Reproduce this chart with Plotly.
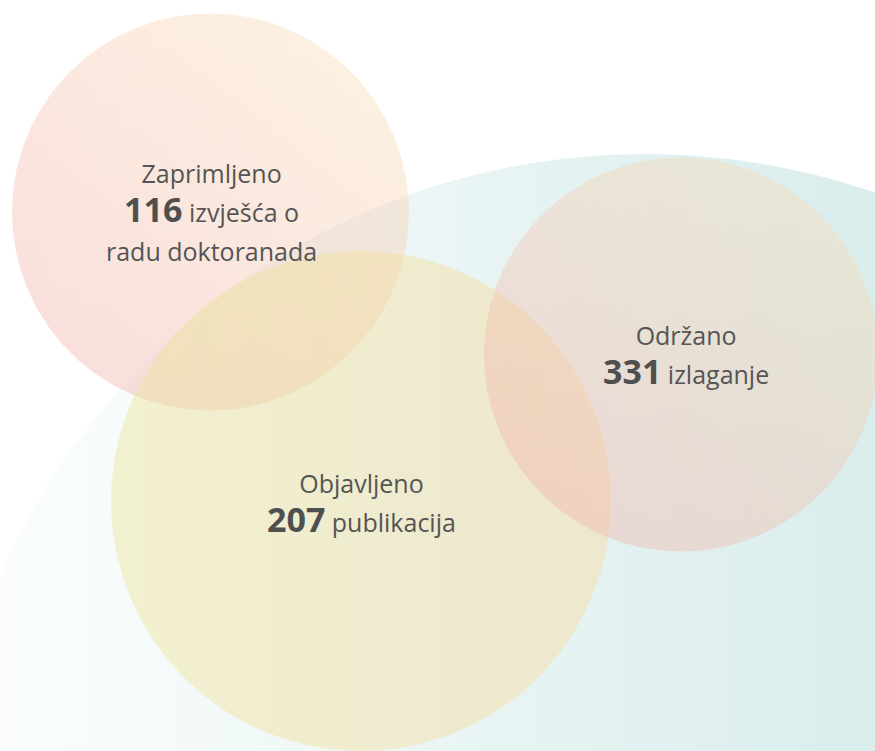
import numpy as np
import plotly.graph_objects as go

# ---- data ----
headings = ["Zaprimljeno", "Objavljeno", "Održano"]
values = [116, 207, 331]
units = ["izvješća o", "publikacija", "izlaganje"]
extra_lines = ["radu doktoranada", "", ""]

# ---- decorative geometry (pixel space, y downward) ----
W, H = 875, 751
circles = {
    "teal":   dict(cx=645, cy=858, r=704),
    "pink":   dict(cx=210.5, cy=212, r=198.5),
    "yellow": dict(cx=361, cy=501, r=250),
    "right":  dict(cx=681, cy=354.5, r=197),
}
# text block centre per bubble, same order as data
text_pos = [(211, 211.5), (361.5, 503.5), (686, 355.5)]

PINK = "rgb(238,168,166)"
CREAM = "rgb(250,226,182)"


def circle_xy(c, n=400):
    t = np.linspace(0, 2 * np.pi, n)
    return c["cx"] + c["r"] * np.cos(t), c["cy"] + c["r"] * np.sin(t)


fig = go.Figure()


def add_fill(c, gtype, c0, c1, start, stop, opacity):
    x, y = circle_xy(c)
    fig.add_trace(go.Scatter(
        x=x, y=y, mode="lines", line=dict(width=0, color="rgba(0,0,0,0)"),
        fill="toself", fillcolor=c1,
        fillgradient=dict(type=gtype, colorscale=[[0, c0], [1, c1]],
                          start=start, stop=stop),
        opacity=opacity, hoverinfo="skip", showlegend=False))


# big teal background circle
add_fill(circles["teal"], "horizontal", "rgb(251,253,253)", "rgb(217,237,236)", 0, W, 1.0)


def diag_bubble(c, opacity_each):
    # horizontal (left pink -> right cream) + vertical (top cream -> bottom pink)
    add_fill(c, "horizontal", PINK, CREAM, c["cx"] - c["r"], c["cx"] + c["r"], opacity_each)
    add_fill(c, "vertical", CREAM, PINK, c["cy"] - c["r"], c["cy"] + c["r"], opacity_each)


diag_bubble(circles["pink"], 0.225)
yc = circles["yellow"]
add_fill(yc, "horizontal", "rgb(236,228,154)", "rgb(250,218,162)",
         yc["cx"] - yc["r"], yc["cx"] + yc["r"], 0.45)
diag_bubble(circles["right"], 0.225)

REG = 25
BIG = 34
BASE = 30  # line pitch = 1.3 * BASE = 39px
COL = "#555555"


def reg(t):
    return f"<span style='font-size:{REG}px'>{t}</span>"


annos = []
for i, (hd, v, u, ex) in enumerate(zip(headings, values, units, extra_lines)):
    x0, yc0 = text_pos[i]
    lines = [reg(hd),
             f"<span style='font-size:{BIG}px;color:#4f4f4f'><b>{v}</b></span>" + reg(" " + u)]
    if ex:
        lines.append(reg(ex))
    annos.append(dict(x=x0, y=yc0, xref="x", yref="y", text="<br>".join(lines),
                      showarrow=False, xanchor="center", yanchor="middle", align="center",
                      font=dict(family="Open Sans", size=BASE, color=COL)))

fig.update_layout(
    width=W, height=H, margin=dict(l=0, r=0, t=0, b=0),
    paper_bgcolor="white", plot_bgcolor="white",
    xaxis=dict(range=[0, W], visible=False, fixedrange=True),
    yaxis=dict(range=[H, 0], visible=False, fixedrange=True),
    annotations=annos, showlegend=False,
)
fig.write_html("out.html", config={"displayModeBar": False},
               post_script="document.body.style.margin='0';document.body.style.overflow='hidden';")
